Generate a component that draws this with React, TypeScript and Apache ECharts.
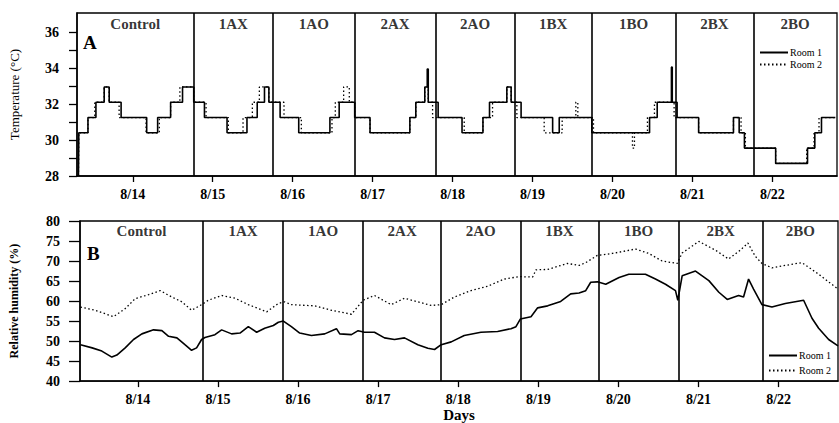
import React, { useEffect, useRef } from "react";
import * as echarts from "echarts";

// ---- data (x in hours from 8/14 00:00) ----
const dayHours = [0, 24, 48, 72, 96, 120, 144, 168, 192];
const dayLabels = ["8/14", "8/15", "8/16", "8/17", "8/18", "8/19", "8/20", "8/21", "8/22"];
const treatments = ["Control", "1AX", "1AO", "2AX", "2AO", "1BX", "1BO", "2BX", "2BO"];
const tempDividers = [18.2, 42.1, 66.6, 90.9, 114.6, 137.8, 162.9, 186.3];
const rhDividers = [19.5, 43.5, 67.5, 90.9, 114.6, 138.0, 162.1, 187.2];
const tempTicks = [28, 29, 30, 31, 32, 33, 34, 35, 36];
const tempTickLabels = [28, 30, 32, 34, 36];
const rhTicks = [40, 45, 50, 55, 60, 65, 70, 75, 80];

const tempRoom1: [number, number][] = [
  [-16.3, 28.0], [-16.2, 30.4], [-13.45, 31.25], [-11.06, 32.1], [-8.58, 32.95], [-7.08, 32.1],
  [-3.5, 31.25], [4.18, 30.4], [7.47, 31.25], [11.36, 32.1], [14.94, 32.95], [18.3, 32.1],
  [21.52, 31.25], [28.3, 30.4], [34.28, 31.25], [37.36, 32.1], [39.54, 32.95], [40.86, 32.1],
  [44.23, 31.25], [49.82, 30.4], [59.18, 31.25], [61.96, 32.1], [66.62, 31.25], [71.22, 30.4],
  [83.18, 31.25], [84.97, 32.1], [87.66, 32.95], [88.4, 33.95], [88.7, 32.1], [91.67, 31.25],
  [98.84, 30.4], [105.12, 31.25], [107.09, 32.1], [112.29, 32.95], [113.58, 32.1], [116.57, 31.25],
  [126.04, 30.4], [128.02, 31.25], [137.79, 30.4], [155.13, 31.25], [157.43, 32.1], [161.7, 34.05],
  [161.95, 32.1], [163.4, 31.25], [169.86, 30.4], [180.32, 31.25], [182.03, 30.4], [183.61, 29.55],
  [192.99, 28.7], [202.55, 29.55], [204.74, 30.4], [206.74, 31.25], [210.9, 31.25],
];

const tempRoom2: [number, number][] = [
  [-16.3, 28.0], [-16.2, 30.4], [-13.45, 31.25], [-11.4, 32.1], [-8.58, 32.95], [-7.08, 32.1],
  [-4.1, 31.25], [4.0, 30.4], [7.97, 31.25], [11.36, 32.1], [14.14, 32.95], [18.3, 32.1],
  [22.0, 31.25], [28.7, 30.4], [33.1, 31.25], [35.9, 32.1], [38.0, 32.95], [40.86, 32.1],
  [45.4, 31.25], [50.6, 30.4], [59.8, 31.25], [60.8, 32.1], [63.3, 32.95], [65.0, 32.1],
  [66.62, 31.25], [71.22, 30.4], [83.18, 31.25], [84.97, 32.1], [87.66, 32.95], [88.7, 32.1],
  [90.0, 31.25], [99.5, 30.4], [105.12, 31.25], [108.0, 32.1], [112.29, 32.95], [113.58, 32.1],
  [115.3, 31.25], [123.5, 30.4], [128.9, 31.25], [133.0, 32.1], [133.6, 31.25], [138.3, 30.4],
  [150.0, 29.55], [150.6, 30.4], [154.5, 31.25], [156.6, 32.1], [162.5, 31.25], [169.86, 30.4],
  [180.32, 31.25], [182.6, 30.4], [183.9, 29.55], [192.99, 28.7], [202.3, 29.55], [204.5, 30.4],
  [206.0, 31.25], [210.9, 31.25],
];

const rhRoom1: [number, number][] = [
  [-17.2, 49.1], [-13.7, 48.3], [-10.8, 47.5], [-7.8, 46.0], [-6.3, 46.5], [-3.8, 48.3],
  [-1.3, 50.4], [1.2, 51.8], [4.7, 52.8], [7.2, 52.6], [9.2, 51.2], [11.7, 50.8], [14.1, 49.1],
  [16.1, 47.7], [17.6, 48.3], [19.1, 50.4], [20.1, 50.9], [23.1, 51.6], [25.1, 52.8], [28.1, 51.8],
  [30.6, 52.0], [33.1, 53.6], [35.6, 52.2], [38.0, 53.2], [40.6, 53.9], [42.1, 54.7], [43.6, 55.0],
  [46.0, 53.6], [48.5, 52.0], [52.0, 51.4], [56.0, 51.8], [59.5, 53.1], [60.5, 51.8], [64.0, 51.6],
  [66.0, 52.6], [67.9, 52.2], [70.9, 52.2], [73.9, 50.8], [76.9, 50.4], [79.9, 50.8], [83.9, 49.1],
  [86.9, 48.2], [88.9, 47.9], [90.9, 49.1], [93.9, 49.8], [97.8, 51.4], [102.8, 52.2], [107.8, 52.4],
  [111.8, 53.1], [113.3, 53.6], [114.6, 55.5], [117.8, 56.1], [119.8, 58.3], [122.8, 58.8],
  [126.7, 59.9], [129.7, 61.8], [132.2, 62.0], [134.2, 62.6], [135.7, 64.7], [137.7, 64.8],
  [140.2, 64.2], [144.2, 65.9], [147.1, 66.7], [152.1, 66.7], [155.1, 65.5], [158.1, 64.2],
  [161.1, 62.6], [161.8, 60.2], [163.1, 66.3], [167.1, 67.5], [171.1, 65.1], [174.1, 62.2],
  [176.6, 60.4], [180.0, 61.4], [181.5, 61.0], [183.0, 65.5], [184.5, 63.0], [187.0, 59.1],
  [190.0, 58.5], [194.0, 59.4], [199.5, 60.2], [202.0, 55.7], [204.0, 53.2], [207.0, 50.4],
  [209.8, 48.8],
];

const rhRoom2: [number, number][] = [
  [-17.2, 58.5], [-12.8, 57.7], [-7.3, 56.1], [-3.8, 58.1], [-0.8, 60.6], [3.2, 61.6], [6.7, 62.6],
  [10.2, 61.0], [13.2, 59.8], [16.1, 57.7], [19.1, 59.1], [21.1, 60.2], [25.1, 61.4], [29.1, 60.7],
  [33.1, 59.1], [38.6, 57.3], [42.1, 59.4], [44.0, 59.8], [46.0, 59.1], [53.0, 58.8], [58.0, 57.7],
  [64.0, 56.7], [67.5, 60.2], [70.9, 61.4], [75.9, 59.1], [79.9, 60.7], [83.9, 59.8], [87.9, 58.9],
  [90.9, 59.1], [94.8, 61.0], [99.8, 62.6], [104.8, 63.7], [109.8, 65.5], [114.3, 66.1],
  [118.3, 66.0], [119.3, 67.8], [122.8, 67.9], [128.7, 69.4], [132.2, 68.9], [134.2, 69.6],
  [137.7, 71.4], [142.2, 71.9], [149.1, 73.0], [153.1, 71.9], [157.1, 70.0], [161.6, 69.4],
  [163.1, 72.0], [168.1, 74.9], [173.1, 72.7], [177.0, 70.5], [180.5, 72.7], [182.8, 74.5],
  [185.0, 71.2], [187.0, 69.4], [190.0, 68.3], [194.0, 68.9], [199.0, 69.6], [204.0, 66.7],
  [209.8, 63.0],
];

const TOP_X = { min: -16.74, max: 211.4 };
const BOT_X = { min: -17.34, max: 209.8 };
const TOP_Y = { min: 28, max: 37.06 };
const BOT_Y = { min: 40, max: 80 };

const SERIF = "'Liberation Serif', 'Times New Roman', serif";

function mids(bounds: number[], min: number, max: number) {
  const all = [min, ...bounds, max];
  const out: number[] = [];
  for (let i = 0; i < all.length - 1; i++) out.push((all[i] + all[i + 1]) / 2);
  return out;
}

export default function App() {
  const ref = useRef<HTMLDivElement>(null);
  useEffect(() => {
    if (!ref.current) return;
    const chart = echarts.init(ref.current, null, { renderer: "svg" });
    const dayFmt = (v: number) => {
      const i = dayHours.indexOf(Math.round(v));
      return i >= 0 ? dayLabels[i] : "";
    };
    const axisLine = { onZero: false, lineStyle: { color: "#000", width: 1.5 } };
    const tickStyle = { lineStyle: { color: "#000", width: 1.3 } };
    const lblStyle = { color: "#000", fontFamily: SERIF, fontWeight: "bold" as const, fontSize: 14 };

    const xAxisBase = (grid: number, r: { min: number; max: number }) => ({
      type: "value" as const,
      gridIndex: grid,
      min: r.min,
      max: r.max,
      splitLine: { show: false },
      axisLine,
      axisTick: { show: true, inside: false, length: 6, customValues: dayHours, ...tickStyle },
      axisLabel: { customValues: dayHours, formatter: dayFmt, margin: 11, ...lblStyle },
    });

    const topMids = mids(tempDividers, TOP_X.min, TOP_X.max);
    const botMids = mids(rhDividers, BOT_X.min, BOT_X.max);

    const divLine = (divs: number[]) => ({
      symbol: "none",
      silent: true,
      label: { show: false },
      lineStyle: { color: "#000", width: 1.6, type: "solid" as const },
      data: divs.map((d) => ({ xAxis: d })),
    });

    const labelSeries = (grid: number, xs: number[], y: number) => ({
      type: "scatter" as const,
      xAxisIndex: grid,
      yAxisIndex: grid,
      symbolSize: 1,
      itemStyle: { color: "rgba(0,0,0,0)" },
      silent: true,
      label: {
        show: true,
        position: "inside" as const,
        formatter: (p: any) => treatments[p.dataIndex],
        color: "#000",
        fontFamily: SERIF,
        fontWeight: "bold" as const,
        fontSize: 15,
      },
      data: xs.map((x) => [x, y]),
    });

    const solid = { color: "#000", width: 1.6, type: "solid" as const };
    const dotted = { color: "#000", width: 1.3, type: [1.5, 2.5] as any };

    const legendBase = {
      data: ["Room 1", "Room 2"],
      orient: "vertical" as const,
      itemWidth: 28,
      itemHeight: 2,
      selectedMode: false,
      padding: 0,
      itemStyle: { opacity: 0 },
      textStyle: { color: "#000", fontFamily: SERIF, fontSize: 10, lineHeight: 11, padding: [0, 0, 0, -3] },
    };

    chart.setOption({
      animation: false,
      backgroundColor: "#fff",
      grid: [
        { left: 74, right: 2, top: 13, height: 163, show: true, borderColor: "#000", borderWidth: 1.3, backgroundColor: "transparent" },
        { left: 78, right: 1, top: 221, bottom: 39, show: true, borderColor: "#000", borderWidth: 1.3, backgroundColor: "transparent" },
      ],
      legend: [
        { ...legendBase, left: 759, top: 47, itemGap: 1 },
        { ...legendBase, left: 768, top: 350, itemGap: 4 },
      ],
      xAxis: [
        xAxisBase(0, TOP_X),
        {
          ...xAxisBase(1, BOT_X),
          name: "Days",
          nameLocation: "middle",
          nameGap: 24,
          nameTextStyle: { color: "#000", fontFamily: SERIF, fontWeight: "bold", fontSize: 15 },
        },
      ],
      yAxis: [
        {
          type: "value",
          gridIndex: 0,
          min: TOP_Y.min,
          max: TOP_Y.max,
          splitLine: { show: false },
          axisLine,
          axisTick: { show: true, length: 8, customValues: tempTicks, ...tickStyle },
          axisLabel: { customValues: tempTickLabels, margin: 18, ...lblStyle },
          name: "Temperature (°C)",
          nameLocation: "middle",
          nameGap: 56,
          nameTextStyle: { color: "#000", fontFamily: SERIF, fontSize: 13 },
        },
        {
          type: "value",
          gridIndex: 1,
          min: BOT_Y.min,
          max: BOT_Y.max,
          splitLine: { show: false },
          axisLine,
          axisTick: { show: true, length: 11, customValues: rhTicks, ...tickStyle },
          axisLabel: { customValues: rhTicks, margin: 20, ...lblStyle },
          name: "Relative humidity (%)",
          nameLocation: "middle",
          nameGap: 60,
          nameTextStyle: { color: "#000", fontFamily: SERIF, fontWeight: "bold", fontSize: 12 },
        },
      ],
      series: [
        {
          name: "Room 1",
          type: "line",
          xAxisIndex: 0,
          yAxisIndex: 0,
          step: "end",
          symbol: "none",
          lineStyle: solid,
          itemStyle: { color: "#000" },
          data: tempRoom1,
          markLine: divLine(tempDividers),
          z: 3,
        },
        {
          name: "Room 2",
          type: "line",
          xAxisIndex: 0,
          yAxisIndex: 0,
          step: "end",
          symbol: "none",
          lineStyle: dotted,
          itemStyle: { color: "#000" },
          data: tempRoom2,
          z: 2,
        },
        {
          name: "Room 1",
          type: "line",
          xAxisIndex: 1,
          yAxisIndex: 1,
          symbol: "none",
          lineStyle: solid,
          itemStyle: { color: "#000" },
          data: rhRoom1,
          markLine: divLine(rhDividers),
          z: 3,
        },
        {
          name: "Room 2",
          type: "line",
          xAxisIndex: 1,
          yAxisIndex: 1,
          symbol: "none",
          lineStyle: dotted,
          itemStyle: { color: "#000" },
          data: rhRoom2,
          z: 2,
        },
        labelSeries(0, topMids, 36.45),
        labelSeries(1, botMids, 77.55),
      ],
      graphic: [
        { type: "text", left: 83, top: 33, style: { text: "A", font: `bold 19px ${SERIF}`, fill: "#000" } },
        { type: "text", left: 87, top: 244, style: { text: "B", font: `bold 19px ${SERIF}`, fill: "#000" } },
      ],
    });
    return () => chart.dispose();
  }, []);
  return (
    <div
      ref={ref}
      style={{ position: "fixed", left: 0, top: 0, width: 839, height: 423, background: "#fff" }}
    />
  );
}
